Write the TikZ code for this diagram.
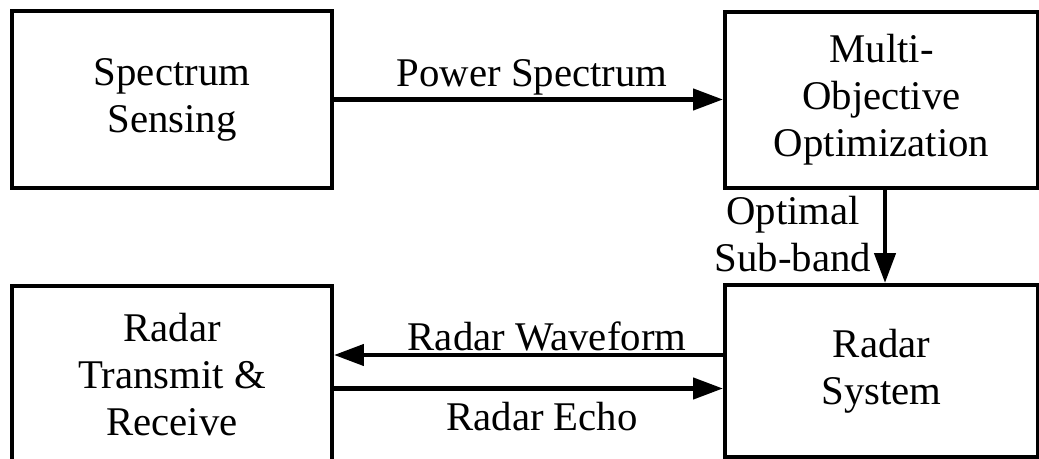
\documentclass[tikz,border=0pt]{standalone}
\usepackage{fontspec}
\setmainfont{Liberation Serif}
\usetikzlibrary{arrows.meta}

\begin{document}
\begin{tikzpicture}[
  blk/.style={draw=black, line width=1.2pt, inner sep=0pt, align=center, font=\fontsize{11.6}{13.4}\selectfont},
  arr/.style={draw=black, line width=1.2pt, -{Triangle[length=8.5pt,width=6pt]}},
  lbl/.style={inner sep=0pt, align=center, font=\fontsize{11.6}{13.4}\selectfont}]
\useasboundingbox (0,0) rectangle (10.39,4.59);
% blocks
\node [blk, minimum width=3.20cm, minimum height=1.77cm] (sense) at (1.72,3.595) {Spectrum\\Sensing};
\node [blk, minimum width=3.13cm, minimum height=1.76cm] (moo) at (8.815,3.59) {Multi-\\Objective\\Optimization};
\node [blk, minimum width=3.20cm, minimum height=1.77cm] (trx) at (1.72,0.845) {Radar\\Transmit \&\\Receive};
\node [blk, minimum width=3.13cm, minimum height=1.72cm] (radar) at (8.815,0.88) {Radar\\System};
% connectors
\draw [arr] (sense.east) -- (sense.east -| moo.west);
\draw [arr] ([xshift=0.035cm]moo.south) -- ([xshift=0.035cm]radar.north);
\draw [arr] ([yshift=1.6mm]radar.west) coordinate (wave) -- (wave -| trx.east);
\draw [arr] ([yshift=-1.4mm]trx.east) coordinate (echo) -- (echo -| radar.west);
% labels
\node [lbl, anchor=base] (pwr) at (5.32,3.72) {Power Spectrum};
\node [lbl, anchor=base] (wvf) at (5.47,1.08) {Radar Waveform};
\node [lbl, anchor=base] (ech) at (5.42,0.28) {Radar Echo};
\node [lbl, anchor=base] (sub) at (7.93,1.87) {Optimal\\Sub-band};
\end{tikzpicture}
\end{document}
